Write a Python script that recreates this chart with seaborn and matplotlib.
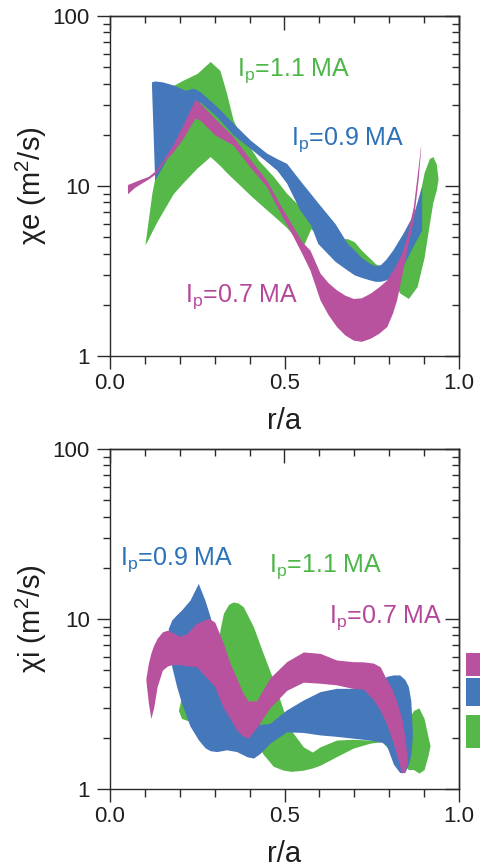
"""
Electron / ion heat diffusivity bands for three plasma currents
"""

import matplotlib
matplotlib.use('Agg')
import matplotlib.pyplot as plt
import seaborn as sns
from matplotlib.ticker import MultipleLocator, NullFormatter
from matplotlib.patches import Rectangle

# ---------------- chi_e panel (top) ----------------
e_green_x = [0.100, 0.11, 0.12, 0.135, 0.15, 0.181, 0.21, 0.25, 0.287, 0.315, 0.334, 0.353, 0.368,
             0.40, 0.425, 0.468, 0.506, 0.535, 0.555, 0.575, 0.60, 0.65, 0.665, 0.68, 0.70, 0.72,
             0.745, 0.76, 0.78, 0.81, 0.83, 0.855, 0.88, 0.90, 0.915, 0.925, 0.935, 0.94]
e_green_hi = [4.5, 6.4, 9.1, 13, 19, 39, 42, 46, 54, 47.9, 35.1, 24.4, 20.9,
              17, 14.2, 11.4, 9.06, 7.9, 7.06, 6.3, 5.8, 5.0, 4.9, 4.9, 4.7, 4.2,
              3.75, 3.5, 3.3, 3.0, 3.2, 4.5, 7.5, 12, 14.5, 14.9, 13.5, 11]
e_green_lo = [4.5, 4.9, 5.4, 6.2, 7.0, 9.0, 10.5, 12.8, 14.9, 13.2, 12.0, 11.0, 10.3,
              8.9, 8.0, 6.7, 5.7, 4.9, 4.5, 5.6, 5.2, 4.2, 4.0, 3.9, 3.6, 3.5,
              3.43, 3.35, 3.2, 2.8, 2.35, 2.18, 2.56, 3.8, 6.0, 8.0, 9.5, 11]

e_blue_x = [0.119, 0.128, 0.15, 0.181, 0.215, 0.24, 0.258, 0.306, 0.353, 0.401, 0.449, 0.478,
            0.506, 0.544, 0.575, 0.595, 0.645, 0.68, 0.70, 0.72, 0.745, 0.76, 0.775, 0.79,
            0.81, 0.84, 0.87, 0.893]
e_blue_hi = [41, 41.5, 41, 39.3, 36.6, 37.6, 35.9, 29.3, 23.4, 18.7, 15.6, 14.5,
             13.6, 10.8, 9.0, 8.0, 6.0, 4.6, 4.2, 3.8, 3.5, 3.4, 3.45, 3.7,
             4.2, 5.3, 6.9, 10]
e_blue_lo = [38, 10.8, 13, 17, 22, 26, 31.3, 25.6, 20, 16.7, 13.9, 12.4,
             10.4, 7.22, 5.9, 4.6, 3.6, 3.2, 3.0, 2.9, 2.8, 2.75, 2.75, 2.8,
             2.95, 3.4, 4.5, 5.5]

e_mag_x = [0.05, 0.07, 0.09, 0.11, 0.13, 0.155, 0.18, 0.205, 0.244, 0.258, 0.30, 0.353, 0.40,
           0.449, 0.49, 0.525, 0.55, 0.573, 0.602, 0.625, 0.649, 0.673, 0.697, 0.72, 0.745,
           0.77, 0.793, 0.81, 0.821, 0.835, 0.85, 0.869, 0.883, 0.89]
e_mag_hi = [10.2, 10.6, 11.0, 11.4, 12.3, 14.5, 17.5, 22, 32.4, 30.7, 25, 19.5, 14.5,
            10.8, 7.6, 5.76, 4.7, 4.2, 3.07, 2.7, 2.45, 2.28, 2.18, 2.2, 2.34,
            2.55, 2.8, 3.2, 3.5, 4.0, 5.0, 7.56, 13, 17.4]
e_mag_lo = [9.0, 9.8, 10.4, 11.0, 11.8, 13.9, 15.8, 18.5, 25.1, 24.4, 20, 17.4, 13.0,
            9.9, 6.8, 5.03, 4.0, 3.2, 2.13, 1.75, 1.49, 1.33, 1.24, 1.22, 1.27,
            1.36, 1.49, 1.8, 2.13, 2.9, 4.2, 6.3, 11, 16.5]

# ---------------- chi_i panel (bottom) ----------------
i_green_x = [0.196, 0.205, 0.229, 0.26, 0.29, 0.306, 0.315, 0.325, 0.34, 0.353, 0.368, 0.382,
             0.411, 0.439, 0.468, 0.497, 0.52, 0.554, 0.58, 0.602, 0.649, 0.697, 0.745, 0.78,
             0.81, 0.84, 0.855, 0.87, 0.885, 0.90, 0.912, 0.917]
i_green_hi = [2.9, 3.49, 3.4, 3.5, 4.0, 6.0, 8.6, 10.8, 12.2, 12.6, 12.4, 11.8,
              9.0, 6.27, 4.38, 2.9, 2.2, 1.77, 1.65, 1.77, 1.94, 1.96, 1.94, 1.92,
              2.0, 2.2, 2.6, 2.9, 3.0, 2.6, 2.0, 1.8]
i_green_lo = [2.9, 2.6, 2.5, 2.4, 2.4, 2.45, 2.5, 2.5, 2.5, 2.5, 2.4, 2.3,
              2.0, 1.6, 1.36, 1.29, 1.27, 1.29, 1.33, 1.38, 1.55, 1.74, 1.86, 1.9,
              1.6, 1.4, 1.3, 1.3, 1.24, 1.3, 1.6, 1.8]

i_blue_x = [0.167, 0.177, 0.191, 0.205, 0.229, 0.253, 0.272, 0.287, 0.306, 0.334, 0.363, 0.392,
            0.411, 0.43, 0.458, 0.506, 0.554, 0.602, 0.649, 0.697, 0.745, 0.78, 0.793, 0.812,
            0.83, 0.845, 0.855, 0.862, 0.866]
i_blue_hi = [8.8, 9.87, 10.6, 11.3, 12.9, 16.2, 12.9, 10.3, 7.5, 5.0, 3.5, 2.6,
             2.4, 2.4, 2.43, 2.92, 3.34, 3.74, 3.91, 3.91, 4.0, 4.38, 4.6, 4.69,
             4.69, 4.4, 4.0, 3.3, 2.2]
i_blue_lo = [8.4, 5.24, 4.0, 3.2, 2.35, 1.95, 1.75, 1.68, 1.66, 1.7, 1.66, 1.55,
             1.52, 1.62, 1.86, 2.17, 2.15, 2.08, 2.04, 1.99, 1.94, 1.88, 1.79, 1.4,
             1.25, 1.25, 1.4, 1.6, 2.0]

i_mag_x = [0.103, 0.110, 0.117, 0.125, 0.135, 0.15, 0.165, 0.18, 0.20, 0.22, 0.248, 0.282, 0.30,
           0.325, 0.344, 0.363, 0.38, 0.396, 0.42, 0.458, 0.506, 0.554, 0.602, 0.649, 0.697,
           0.726, 0.755, 0.774, 0.793, 0.81, 0.825, 0.836, 0.845, 0.852]
i_mag_hi = [4.5, 5.5, 6.3, 7.0, 7.7, 8.4, 8.6, 8.3, 7.9, 8.2, 9.43, 10.1, 9.6,
            7.2, 5.5, 4.5, 3.7, 3.3, 3.3, 4.5, 5.61, 6.4, 6.28, 5.74, 5.61,
            5.6, 5.5, 5.24, 4.38, 3.8, 3.1, 2.6, 2.0, 1.5]
i_mag_lo = [4.3, 3.2, 2.6, 3.0, 4.0, 5.0, 5.3, 5.4, 5.4, 5.3, 5.24, 4.4, 4.0,
            3.0, 2.6, 2.22, 2.05, 1.99, 2.3, 3.0, 3.8, 4.25, 4.19, 4.1, 3.9,
            3.87, 3.34, 2.9, 2.4, 1.9, 1.5, 1.24, 1.27, 1.45]

ip_labels = ['I$_\\mathrm{p}$=1.1 MA', 'I$_\\mathrm{p}$=0.9 MA', 'I$_\\mathrm{p}$=0.7 MA']
x_ticks = [0.0, 0.5, 1.0]
x_ticklabels = ['0.0', '0.5', '1.0']
y_ticks = [1, 10, 100]
y_ticklabels = ['1', '10', '100']

GREEN, BLUE, MAGENTA = '#55b848', '#4577bb', '#b8529e'
GREEN_T, BLUE_T, MAGENTA_T = '#4cb748', '#2b72b8', '#b5489b'
AXC = '#2a2a2a'

sns.set_theme(style='ticks')
plt.rcParams['font.family'] = ['Liberation Sans', 'DejaVu Sans']
plt.rcParams['mathtext.fontset'] = 'custom'
plt.rcParams['mathtext.rm'] = 'Liberation Sans'
plt.rcParams['mathtext.it'] = 'Liberation Sans:italic'
plt.rcParams['mathtext.bf'] = 'Liberation Sans:bold'


def style_axes(ax, ylabel):
    ax.set_yscale('log')
    ax.set_xlim(0, 1)
    ax.set_ylim(1, 100)
    ax.set_xticks(x_ticks)
    ax.set_xticklabels(x_ticklabels)
    ax.xaxis.set_minor_locator(MultipleLocator(0.1))
    ax.set_yticks(y_ticks)
    ax.set_yticklabels(y_ticklabels)
    ax.yaxis.set_minor_formatter(NullFormatter())
    ax.tick_params(which='both', direction='out', top=False, right=False,
                   color=AXC, width=1.0, labelsize=16, labelcolor='#1e1e1e')
    ax.tick_params(axis='x', which='major', length=9.4, pad=3)
    ax.tick_params(axis='x', which='minor', length=5.8)
    ax.tick_params(axis='y', which='major', length=9.4, pad=5)
    ax.tick_params(axis='y', which='minor', length=5)
    for sp in ax.spines.values():
        sp.set_color(AXC)
        sp.set_linewidth(1.0)
    ax.set_xlabel('r/a', fontsize=21, labelpad=9, color='#1e1e1e')
    ax.set_ylabel(ylabel, fontsize=21, labelpad=3, color='#1e1e1e')

    # inward ticks on top and right
    top = ax.secondary_xaxis('top')
    top.set_xticks(x_ticks)
    top.xaxis.set_minor_locator(MultipleLocator(0.1))
    top.tick_params(which='both', direction='in', labeltop=False, color=AXC, width=1.0)
    top.tick_params(which='major', length=10)
    top.tick_params(which='minor', length=5)
    right = ax.secondary_yaxis('right')
    right.tick_params(which='both', direction='in', labelright=False, color=AXC, width=1.0)
    right.tick_params(which='major', length=10)
    right.tick_params(which='minor', length=5)
    for s in (top, right):
        for sp in s.spines.values():
            sp.set_color(AXC)
            sp.set_linewidth(1.0)


fig = plt.figure(figsize=(4.8, 8.67), dpi=100)
ax1 = fig.add_axes([110 / 480, 1 - 356 / 867, 349 / 480, 340 / 867])
ax2 = fig.add_axes([110 / 480, 1 - 789 / 867, 349 / 480, 340 / 867])

# top: chi_e
ax1.fill_between(e_green_x, e_green_lo, e_green_hi, color=GREEN, lw=0)
ax1.fill_between(e_blue_x, e_blue_lo, e_blue_hi, color=BLUE, lw=0)
ax1.fill_between(e_mag_x, e_mag_lo, e_mag_hi, color=MAGENTA, lw=0)
style_axes(ax1, 'χe (m$^2$/s)')
ax1.text(0.364, 44.4, ip_labels[0], color=GREEN_T, fontsize=18, va='baseline')
ax1.text(0.519, 17.4, ip_labels[1], color=BLUE_T, fontsize=18, va='baseline')
ax1.text(0.215, 2.09, ip_labels[2], color=MAGENTA_T, fontsize=18, va='baseline')

# bottom: chi_i
ax2.fill_between(i_green_x, i_green_lo, i_green_hi, color=GREEN, lw=0)
ax2.fill_between(i_blue_x, i_blue_lo, i_blue_hi, color=BLUE, lw=0)
ax2.fill_between(i_mag_x, i_mag_lo, i_mag_hi, color=MAGENTA, lw=0)
style_axes(ax2, 'χi (m$^2$/s)')
ax2.text(0.029, 20.8, ip_labels[1], color=BLUE_T, fontsize=18, va='baseline')
ax2.text(0.456, 19.0, ip_labels[0], color=GREEN_T, fontsize=18, va='baseline')
ax2.text(0.628, 9.5, ip_labels[2], color=MAGENTA_T, fontsize=18, va='baseline')

# clipped legend swatches at the right edge
for col, y0, y1 in [(MAGENTA, 653, 676), (BLUE, 678, 706), (GREEN, 715, 748)]:
    fig.add_artist(Rectangle((466 / 480, 1 - y1 / 867), 30 / 480, (y1 - y0) / 867,
                             transform=fig.transFigure, color=col, lw=0))

fig.savefig('out.png', dpi=100)
plt.close(fig)
